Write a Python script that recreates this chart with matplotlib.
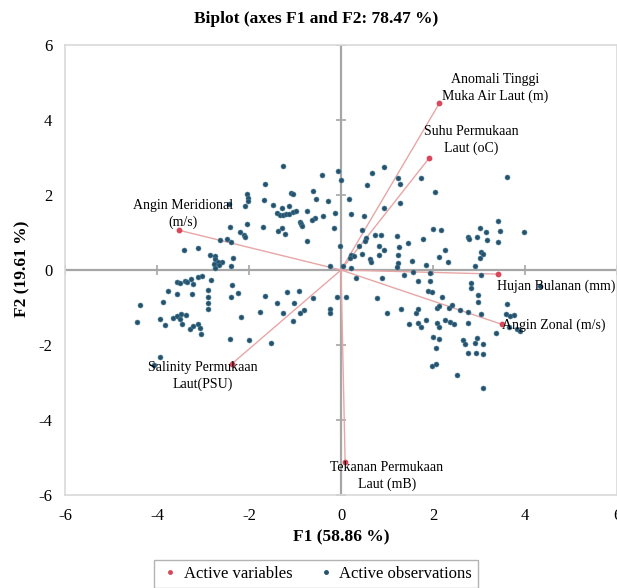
import matplotlib
matplotlib.use("Agg")
import matplotlib.pyplot as plt
from matplotlib.lines import Line2D
import numpy as np

plt.rcParams['font.family'] = ['Liberation Serif', 'DejaVu Serif']
plt.rcParams['axes.unicode_minus'] = False

# variables (loadings scaled for the biplot)
var_names = ["Anomali Tinggi\nMuka Air Laut (m)", "Suhu Permukaan\nLaut (oC)",
             "Angin Meridional\n(m/s)", "Hujan Bulanan (mm)", "Angin Zonal (m/s)",
             "Salinity Permukaan\nLaut(PSU)", "Tekanan Permukaan\nLaut (mB)"]
var_f1 = [2.14, 1.92, -3.52, 3.42, 3.50, -2.38, 0.09]
var_f2 = [4.45, 2.99, 1.06, -0.11, -1.45, -2.51, -5.12]
lab_f1 = [3.34, 2.84, -3.43, 3.39, 3.50, -3.00, 1.00]
lab_f2 = [4.85, 3.47, 1.49, -0.43, -1.47, -2.83, -5.49]
lab_ha = ["center", "center", "center", "left", "left", "center", "center"]

# observations
obs_f1 = [-1.27, -0.42, -0.07, 0.01, -1.66, -2.05, -2.03, -2.03, -1.09, -1.05,
          -0.60, -0.55, -1.68, -0.28, -2.08, -1.47, -1.12, -1.29, -1.39, -1.33,
          -1.26, -1.19, -1.12, -1.05, -0.98, -0.74, -0.14, -0.39, -0.57, -0.63,
          -0.90, -0.87, -0.84, -2.04, -1.70, -2.42, -1.38, -1.28, -1.21, -2.20,
          -2.10, -2.08, -0.15, -2.64, -2.48, -2.40, -0.75, -0.03, -3.10, -2.85,
          -2.75, -2.73, -2.35, -2.58, -2.67, -2.65, -2.77, -2.74, -2.39, -0.25,
          0.04, -3.42, -3.56, -3.49, -3.39, -3.35, -3.26, -3.21, -3.10, -3.76,
          -3.56, -3.25, -4.37, -3.88, -4.43, -3.94, -3.83, -3.65, -3.56, -3.47,
          -3.38, -3.50, -3.45, -3.29, -3.21, -3.10, -3.07, -3.04, -3.94, -4.07,
          -3.02, -2.83, -2.38, -2.90, -2.90, -2.90, -2.90, -2.39, -2.24, -1.65,
          -1.18, -0.92, -1.39, -1.03, -0.61, -0.09, 0.11, -1.77, -1.27, -0.90,
          -0.81, -0.25, -0.24, -2.18, -1.05, -2.41, -2.01, -1.52, 0.94, 0.67,
          1.23, 1.28, 0.57, 1.74, 2.05, 0.17, 1.28, 0.94, 0.21, 0.49,
          0.45, 2.00, 2.18, 0.55, 0.52, 0.74, 0.88, 1.22, 1.45, 1.78,
          2.75, 2.79, 0.39, 0.83, 0.94, 1.25, 1.23, 2.25, 0.21, 0.28,
          0.20, 0.45, 0.83, 0.63, 0.66, 1.23, 1.55, 2.14, 2.32, 1.85,
          0.21, 1.21, 0.32, 0.89, 1.38, 1.57, 1.94, 1.67, 1.94, 1.90,
          1.97, 2.19, 0.78, 0.99, 1.30, 1.62, 1.68, 2.09, 2.14, 2.34,
          2.41, 2.59, 2.75, 1.47, 1.68, 1.73, 1.85, 2.09, 2.14, 2.27,
          2.36, 2.45, 2.75, 2.01, 2.13, 2.07, 2.65, 2.70, 2.75, 1.97,
          2.07, 2.53, 3.60, 3.42, 3.02, 3.16, 2.96, 3.45, 3.98, 3.18,
          3.42, 3.05, 3.08, 3.03, 2.91, 3.05, 2.83, 2.83, 2.98, 2.98,
          3.05, 3.60, 3.58, 3.67, 3.77, 3.38, 3.66, 3.82, 3.89, 2.96,
          2.91, 3.08, 2.93, 3.08, 3.08, 4.33, -2.43]
obs_f2 = [2.77, 2.53, 2.63, 2.40, 2.29, 2.02, 1.93, 1.84, 2.05, 2.02,
          2.10, 1.89, 1.87, 1.83, 1.71, 1.73, 1.71, 1.66, 1.51, 1.47,
          1.47, 1.49, 1.50, 1.54, 1.57, 1.57, 1.51, 1.45, 1.39, 1.33,
          1.29, 1.22, 1.17, 1.23, 1.15, 1.14, 1.04, 1.11, 0.97, 1.02,
          0.93, 0.88, 1.11, 0.79, 0.83, 0.75, 0.77, 0.63, 0.59, 0.39,
          0.37, 0.30, 0.31, 0.22, 0.22, 0.13, 0.15, 0.06, 0.11, 0.11,
          0.11, 0.53, -0.32, -0.35, -0.29, -0.31, -0.25, -0.38, -0.19, -0.56,
          -0.63, -0.63, -0.93, -0.85, -1.38, -1.31, -1.47, -1.27, -1.23, -1.17,
          -1.20, -1.31, -1.43, -1.58, -1.49, -1.44, -1.55, -1.71, -2.31, -2.53,
          -0.16, -0.27, -0.40, -0.53, -0.72, -0.87, -1.05, -0.72, -0.61, -0.70,
          -0.59, -0.56, -0.89, -0.89, -0.75, -0.72, -0.72, -1.11, -1.15, -1.15,
          -1.07, -1.05, -1.14, -1.25, -1.36, -1.83, -1.86, -1.94, 2.75, 2.58,
          2.45, 2.29, 2.27, 2.45, 2.08, 1.90, 1.78, 1.66, 1.49, 1.43,
          1.07, 1.10, 1.07, 0.86, 0.77, 0.93, 0.93, 0.91, 0.73, 0.83,
          0.89, 0.84, 0.64, 0.64, 0.53, 0.61, 0.40, 0.53, 0.39, 0.37,
          0.31, 0.43, 0.40, 0.29, 0.21, 0.19, 0.24, 0.35, 0.22, 0.13,
          0.06, 0.08, -0.21, -0.21, -0.13, -0.05, -0.07, -0.29, -0.29, -0.56,
          -0.58, -0.71, -0.74, -1.15, -1.05, -1.14, -1.05, -1.02, -0.96, -1.02,
          -0.93, -1.07, -1.12, -1.45, -1.42, -1.51, -1.34, -1.41, -1.52, -1.33,
          -1.38, -1.43, -1.41, -1.79, -1.85, -2.07, -1.87, -1.97, -2.21, -2.57,
          -2.51, -2.81, 2.48, 1.31, 1.11, 1.02, 0.89, 1.04, 1.02, 0.80,
          0.75, 0.48, 0.42, 0.33, 0.11, -0.13, -0.34, -0.47, -0.67, -0.85,
          -1.18, -0.91, -1.18, -1.23, -1.21, -1.67, -1.52, -1.58, -1.63, -1.81,
          -1.94, -1.97, -2.21, -2.23, -3.14, -0.43, 1.75]

ticks = [-6, -4, -2, 0, 2, 4, 6]

fig = plt.figure(figsize=(6.17, 5.88), dpi=100)
ax = fig.add_axes([65/617, 1 - 495/588, 552/617, 450/588])

ax.set_xlim(-6, 6)
ax.set_ylim(-6, 6)
ax.set_xticks(ticks)
ax.set_yticks(ticks)
ax.tick_params(length=0, labelsize=12, pad=9)
for s in ax.spines.values():
    s.set_color("#d9d9d9")
    s.set_linewidth(1.2)

# zero axes with small cross ticks
ax.axhline(0, color="#a6a6a6", lw=1.6, zorder=1)
ax.axvline(0, color="#a6a6a6", lw=1.6, zorder=1)
tk = [t for t in ticks if t != 0]
ax.plot(np.zeros(len(tk)), tk, ls="none", marker="_", ms=7, mew=1.2, color="#a6a6a6", zorder=1)
ax.plot(tk, np.zeros(len(tk)), ls="none", marker="|", ms=7, mew=1.2, color="#a6a6a6", zorder=1)

ax.scatter(obs_f1, obs_f2, s=13, color="#26526d", edgecolor="#4d8199", lw=0.4, zorder=3)

for i in range(len(var_f1)):
    ax.plot([0, var_f1[i]], [0, var_f2[i]], color="#e8a6a6", lw=1.0, zorder=2)
ax.scatter(var_f1, var_f2, s=10, color="#d9475b", zorder=4)
for i in range(len(var_names)):
    ax.text(lab_f1[i], lab_f2[i], var_names[i], ha=lab_ha[i], va="center",
            fontsize=10, linespacing=1.35, zorder=5)

ax.set_xlabel("F1 (58.86 %)", fontsize=12.5, fontweight="bold", labelpad=4)
fig.text(22/617, 1 - 269/588, "F2 (19.61 %)", rotation=90, ha="center", va="center",
         fontsize=12.5, fontweight="bold")
fig.text(316/617, 1 - 19/588, "Biplot (axes F1 and F2: 78.47 %)", ha="center", va="center",
         fontsize=12.5, fontweight="bold")

handles = [Line2D([], [], ls="none", marker="o", ms=2.5, color="#d9475b"),
           Line2D([], [], ls="none", marker="o", ms=2.5, color="#26526d")]
leg = fig.legend(handles, ["Active variables", "Active observations"], loc="upper center",
                 bbox_to_anchor=(316/617, 1 - 560/588), ncol=2, fontsize=12,
                 frameon=True, fancybox=False, handlelength=1.2, handletextpad=0.2,
                 columnspacing=1.4, borderpad=0.35, borderaxespad=0)
leg.get_frame().set_edgecolor("#a0a0a0")
leg.get_frame().set_linewidth(1.0)

fig.savefig("out.png", dpi=100)
